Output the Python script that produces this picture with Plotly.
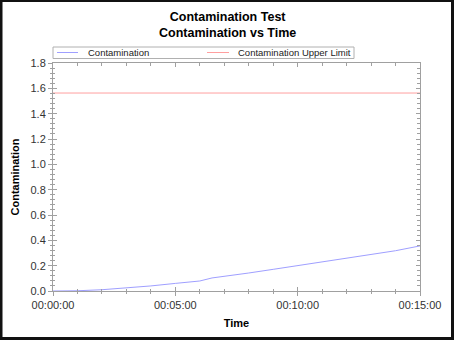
import plotly.graph_objects as go

# Data
time_min = [0, 1, 2, 3, 4, 5, 6, 6.5, 7, 8, 9, 10, 11, 12, 13, 14, 15]
contamination = [0.0, 0.002, 0.01, 0.024, 0.04, 0.06, 0.079, 0.103, 0.115, 0.142, 0.171, 0.2, 0.229, 0.258, 0.288, 0.318, 0.356]
upper_limit = [1.563, 1.563]
limit_time = [0, 15]
series_names = ["Contamination", "Contamination Upper Limit"]
series_colors = ["#9f9fff", "#ff9f9f"]
x_tickvals = [0, 5, 10, 15]
x_ticktext = ["00:00:00", "00:05:00", "00:10:00", "00:15:00"]
y_tickvals = [0.0, 0.2, 0.4, 0.6, 0.8, 1.0, 1.2, 1.4, 1.6, 1.8]
y_ticktext = ["0.0", "0.2", "0.4", "0.6", "0.8", "1.0", "1.2", "1.4", "1.6", "1.8"]

W, H = 454, 340
L, R, T, B = 53, 420, 63, 291
pw, ph = R - L, B - T

def px(x):
    return (x - L) / pw

def py(y):
    return (B - y) / ph

FONT = "Liberation Sans, Arial, sans-serif"
AX = "#a0a0a0"

fig = go.Figure()
fig.add_trace(go.Scatter(x=time_min, y=contamination, mode="lines", name=series_names[0],
                         line=dict(color=series_colors[0], width=1)))
fig.add_trace(go.Scatter(x=limit_time, y=upper_limit, mode="lines", name=series_names[1],
                         line=dict(color=series_colors[1], width=1)))

xr = [0, 15]
yr = [0, 1.8]
common = dict(showgrid=False, zeroline=False, linecolor=AX, linewidth=1, tickcolor=AX)

fig.update_layout(
    width=W, height=H,
    margin=dict(l=L, r=W - R, t=T, b=H - B, pad=0),
    paper_bgcolor="white", plot_bgcolor="white",
    font=dict(family=FONT, size=11, color="#333333"),
    showlegend=False,
    xaxis=dict(range=xr, tickvals=x_tickvals, ticktext=x_ticktext, ticks="outside", ticklen=4,
               minor=dict(dtick=1, ticks="outside", ticklen=2, tickcolor=AX, showgrid=False),
               title=dict(text="<b>Time</b>", standoff=9, font=dict(size=11, color="#000000")),
               tickfont=dict(size=11, color="#333333"), **common),
    yaxis=dict(range=yr, tickvals=y_tickvals, ticktext=y_ticktext, ticks="outside", ticklen=4,
               minor=dict(dtick=0.04, tick0=0, ticks="outside", ticklen=2, tickcolor=AX, showgrid=False),
               title=dict(text="<b>Contamination</b>", standoff=8, font=dict(size=11, color="#000000")),
               tickfont=dict(size=11, color="#333333"), **common),
    xaxis2=dict(range=xr, overlaying="x", side="top", showticklabels=False,
                tickvals=x_tickvals, ticks="inside", ticklen=4,
                minor=dict(dtick=1, ticks="inside", ticklen=3, tickcolor=AX, showgrid=False), **common),
    yaxis2=dict(range=yr, overlaying="y", side="right", showticklabels=False,
                tickvals=y_tickvals, ticks="inside", ticklen=4,
                minor=dict(dtick=0.04, tick0=0, ticks="inside", ticklen=3, tickcolor=AX, showgrid=False), **common),
    xaxis3=dict(range=xr, overlaying="x", side="bottom", showticklabels=False, showline=False,
                tickvals=x_tickvals, ticks="inside", ticklen=4,
                minor=dict(dtick=1, ticks="inside", ticklen=2, tickcolor=AX, showgrid=False),
                showgrid=False, zeroline=False, tickcolor=AX),
    yaxis3=dict(range=yr, overlaying="y", side="left", showticklabels=False, showline=False,
                tickvals=y_tickvals, ticks="inside", ticklen=4,
                minor=dict(dtick=0.04, tick0=0, ticks="inside", ticklen=2, tickcolor=AX, showgrid=False),
                showgrid=False, zeroline=False, tickcolor=AX),
)

# title as annotation for precise placement
fig.add_annotation(text="<b>Contamination Test<br>Contamination vs Time</b>",
                   xref="paper", yref="paper", x=px(W / 2), y=py(8), xanchor="center", yanchor="top",
                   showarrow=False, font=dict(family=FONT, size=12.5, color="#000000"))

# legend box drawn as shapes + text
fig.add_shape(type="rect", xref="paper", yref="paper",
              x0=px(53), x1=px(354), y0=py(58.5), y1=py(47),
              line=dict(color="#b0b0b0", width=1), fillcolor="white")
leg_y = 52.5
for i, (sx0, sx1, tx) in enumerate([(57, 78, 86), (207, 229, 236)]):
    fig.add_shape(type="line", xref="paper", yref="paper",
                  x0=px(sx0), x1=px(sx1), y0=py(leg_y), y1=py(leg_y),
                  line=dict(color=series_colors[i], width=1))
    fig.add_annotation(text=series_names[i], xref="paper", yref="paper",
                       x=px(tx), y=py(leg_y), xanchor="left", yanchor="middle",
                       showarrow=False, font=dict(family=FONT, size=9.5, color="#222222"))

# invisible traces to anchor extra axes
fig.add_trace(go.Scatter(x=limit_time, y=upper_limit, xaxis="x2", yaxis="y2", mode="lines",
                         line=dict(width=0), showlegend=False, hoverinfo="skip", opacity=0))
fig.add_trace(go.Scatter(x=limit_time, y=upper_limit, xaxis="x3", yaxis="y3", mode="lines",
                         line=dict(width=0), showlegend=False, hoverinfo="skip", opacity=0))

# outer dark frame
frame = [
    (0, 0, 2.5, H),        # left
    (0, 0, W, 2),          # top
    (W - 3, 0, W, H),      # right
    (0, H - 3, W, H),      # bottom
]
for x0, y0, x1, y1 in frame:
    fig.add_shape(type="rect", xref="paper", yref="paper",
                  x0=px(x0), x1=px(x1), y0=py(y1), y1=py(y0),
                  fillcolor="#111111", line=dict(width=0), layer="above")

fig.write_html("out.html")
